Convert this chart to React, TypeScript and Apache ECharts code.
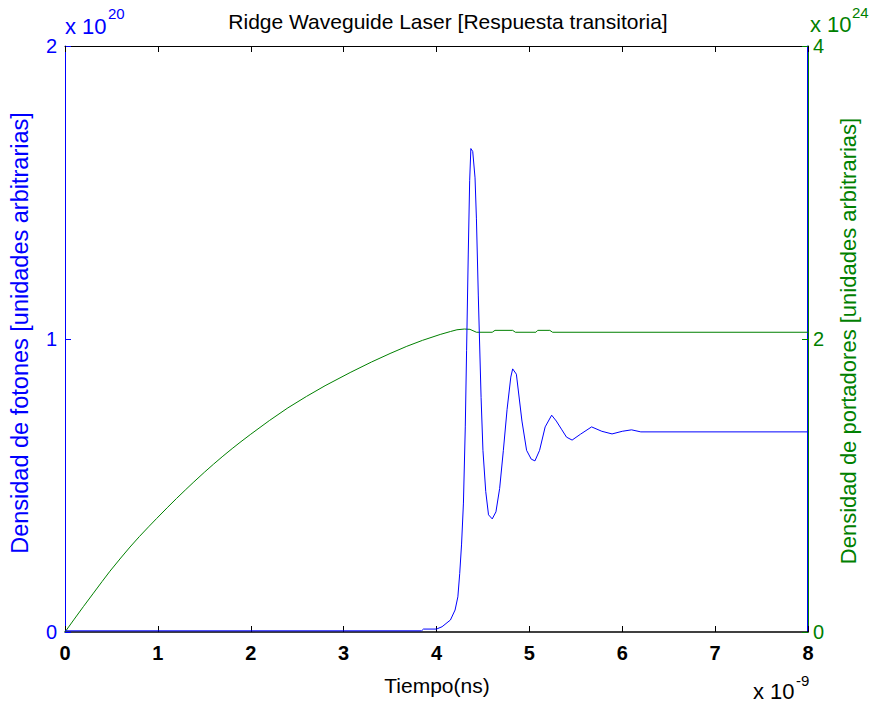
import React, { useEffect, useRef } from "react";
import * as echarts from "echarts";

const xTicks = [0, 1, 2, 3, 4, 5, 6, 7, 8];
const title = "Ridge Waveguide Laser [Respuesta transitoria]";
const xName = "Tiempo(ns)";
const leftName = "Densidad de fotones [unidades arbitrarias]";
const rightName = "Densidad de portadores [unidades arbitrarias]";

// Photon density (x 10^20) vs time (ns)
const photonTime = [0, 3.84, 3.86, 4.0, 4.06, 4.15, 4.2, 4.23, 4.25, 4.27, 4.29, 4.31, 4.324, 4.342, 4.357, 4.37, 4.39, 4.415, 4.43, 4.45, 4.48, 4.5, 4.53, 4.56, 4.6, 4.64, 4.68, 4.72, 4.76, 4.8, 4.82, 4.86, 4.92, 4.97, 5.02, 5.06, 5.11, 5.17, 5.24, 5.29, 5.35, 5.4, 5.46, 5.55, 5.67, 5.78, 5.89, 6.0, 6.1, 6.2, 8];
const photonValue = [0.004, 0.004, 0.01, 0.01, 0.018, 0.041, 0.075, 0.12, 0.2, 0.3, 0.44, 0.7, 0.96, 1.29, 1.54, 1.65, 1.64, 1.55, 1.41, 1.15, 0.8, 0.62, 0.48, 0.4, 0.386, 0.41, 0.49, 0.62, 0.76, 0.87, 0.898, 0.88, 0.72, 0.62, 0.59, 0.584, 0.62, 0.7, 0.74, 0.72, 0.69, 0.665, 0.655, 0.675, 0.7, 0.685, 0.676, 0.685, 0.69, 0.683, 0.683];

// Carrier density (x 10^24) vs time (ns)
const carrierTime = [0, 0.1, 0.2, 0.3, 0.4, 0.484, 0.6, 0.7, 0.8, 0.9, 0.987, 1.1, 1.2, 1.3, 1.38, 1.5, 1.6, 1.7, 1.8, 1.884, 2.0, 2.2, 2.4, 2.6, 2.8, 3.07, 3.3, 3.5, 3.68, 3.85, 4.04, 4.15, 4.22, 4.3, 4.36, 4.43, 4.6, 4.63, 4.82, 4.85, 5.07, 5.09, 5.22, 5.25, 8];
const carrierValue = [0, 0.088, 0.175, 0.26, 0.345, 0.415, 0.505, 0.58, 0.651, 0.718, 0.775, 0.848, 0.911, 0.972, 1.02, 1.09, 1.146, 1.2, 1.252, 1.294, 1.35, 1.443, 1.53, 1.608, 1.681, 1.771, 1.843, 1.901, 1.95, 1.991, 2.031, 2.051, 2.063, 2.068, 2.066, 2.046, 2.046, 2.059, 2.059, 2.046, 2.046, 2.059, 2.059, 2.046, 2.046];

const BLUE = "#0000FF";
const GREEN = "#008000";
const FONT = "Liberation Sans, Arial, sans-serif";

export default function App() {
  const ref = useRef<HTMLDivElement>(null);
  useEffect(() => {
    document.body.style.margin = "0";
    const chart = echarts.init(ref.current!, undefined, { renderer: "svg" });
    const photonData = photonTime.map((t, i) => [t, photonValue[i]]);
    const carrierData = carrierTime.map((t, i) => [t, carrierValue[i]]);
    chart.setOption({
      animation: false,
      backgroundColor: "#fff",
      textStyle: { fontFamily: FONT },
      grid: { left: 65, right: 63, top: 46, bottom: 76, containLabel: false },
      xAxis: [
        {
          type: "value",
          position: "bottom",
          min: 0,
          max: 8,
          interval: 1,
          axisLine: { show: true, onZero: false, lineStyle: { color: "#000", width: 1.5 } },
          axisTick: { show: true, inside: true, length: 6, lineStyle: { color: "#000" } },
          axisLabel: {
            color: "#000",
            fontSize: 20,
            fontWeight: "bold",
            fontFamily: FONT,
            margin: 11,
            formatter: (v: number) => String(xTicks.includes(v) ? v : v),
          },
          splitLine: { show: false },
        },
        {
          type: "value",
          position: "top",
          min: 0,
          max: 8,
          interval: 1,
          axisLine: { show: true, onZero: false, lineStyle: { color: "#000", width: 1 } },
          axisTick: { show: true, inside: true, length: 6, lineStyle: { color: "#000" } },
          axisLabel: { show: false },
          splitLine: { show: false },
        },
      ],
      yAxis: [
        {
          type: "value",
          position: "left",
          min: 0,
          max: 2,
          interval: 1,
          axisLine: { show: true, onZero: false, lineStyle: { color: BLUE, width: 1 } },
          axisTick: { show: true, inside: true, length: 6, lineStyle: { color: BLUE } },
          axisLabel: { color: BLUE, fontSize: 20, fontFamily: FONT, margin: 8 },
          splitLine: { show: false },
        },
        {
          type: "value",
          position: "right",
          min: 0,
          max: 4,
          interval: 2,
          axisLine: { show: true, onZero: false, lineStyle: { color: GREEN, width: 1 } },
          axisTick: { show: true, inside: true, length: 6, lineStyle: { color: GREEN } },
          axisLabel: { color: GREEN, fontSize: 20, fontFamily: FONT, margin: 5 },
          splitLine: { show: false },
        },
        {
          type: "value",
          position: "right",
          offset: -1,
          min: 0,
          max: 2,
          interval: 1,
          axisLine: { show: true, onZero: false, lineStyle: { color: BLUE, width: 1 } },
          axisTick: { show: false },
          axisLabel: { show: false },
          splitLine: { show: false },
        },
      ],
      series: [
        {
          type: "line",
          xAxisIndex: 0,
          yAxisIndex: 0,
          data: photonData,
          showSymbol: false,
          symbol: "none",
          lineStyle: { color: BLUE, width: 1 },
          z: 3,
        },
        {
          type: "line",
          xAxisIndex: 0,
          yAxisIndex: 1,
          data: carrierData,
          showSymbol: false,
          symbol: "none",
          lineStyle: { color: GREEN, width: 1 },
          z: 2,
        },
      ],
      graphic: [
        {
          type: "text",
          x: 448,
          y: 21,
          style: { text: title, fill: "#000", font: `21px ${FONT}`, textAlign: "center", textVerticalAlign: "middle" },
        },
        {
          type: "text",
          x: 437,
          y: 685,
          style: { text: xName, fill: "#000", font: `21px ${FONT}`, textAlign: "center", textVerticalAlign: "middle" },
        },
        {
          type: "text",
          x: 20,
          y: 333,
          rotation: Math.PI / 2,
          style: { text: leftName, fill: BLUE, font: `23.5px ${FONT}`, textAlign: "center", textVerticalAlign: "middle" },
        },
        {
          type: "text",
          x: 848,
          y: 341,
          rotation: Math.PI / 2,
          style: { text: rightName, fill: GREEN, font: `22px ${FONT}`, textAlign: "center", textVerticalAlign: "middle" },
        },
        // x 10^20 (left)
        {
          type: "text",
          x: 65,
          y: 26,
          style: { text: "x 10", fill: BLUE, font: `22px ${FONT}`, textAlign: "left", textVerticalAlign: "middle" },
        },
        {
          type: "text",
          x: 108,
          y: 13,
          style: { text: "20", fill: BLUE, font: `15px ${FONT}`, textAlign: "left", textVerticalAlign: "middle" },
        },
        // x 10^24 (right)
        {
          type: "text",
          x: 810,
          y: 24,
          style: { text: "x 10", fill: GREEN, font: `22px ${FONT}`, textAlign: "left", textVerticalAlign: "middle" },
        },
        {
          type: "text",
          x: 852,
          y: 12,
          style: { text: "24", fill: GREEN, font: `15px ${FONT}`, textAlign: "left", textVerticalAlign: "middle" },
        },
        // x 10^-9 (bottom)
        {
          type: "text",
          x: 753,
          y: 691,
          style: { text: "x 10", fill: "#000", font: `22px ${FONT}`, textAlign: "left", textVerticalAlign: "middle" },
        },
        {
          type: "text",
          x: 796,
          y: 680,
          style: { text: "-9", fill: "#000", font: `15px ${FONT}`, textAlign: "left", textVerticalAlign: "middle" },
        },
      ],
    });
    return () => chart.dispose();
  }, []);
  return <div ref={ref} style={{ width: 871, height: 708 }} />;
}
